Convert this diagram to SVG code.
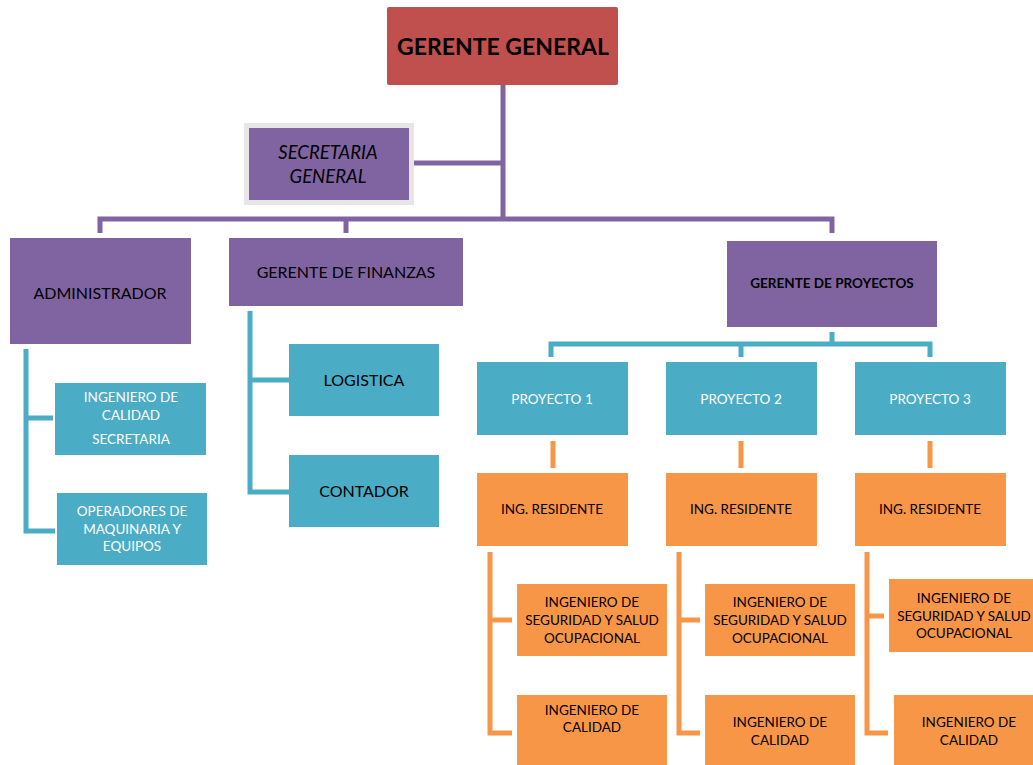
<svg xmlns="http://www.w3.org/2000/svg" width="1033" height="765" viewBox="0 0 1033 765">
<style>
text{font-family:Lato,"Open Sans","Liberation Sans",sans-serif;text-anchor:middle;dominant-baseline:central}
.p{fill:#8064a2}.r{fill:#c0504d}.t{fill:#4bacc6}.o{fill:#f79646}
.lp{stroke:#8064a2;stroke-width:5;fill:none}
.lt{stroke:#4bacc6;stroke-width:5;fill:none}
.lo{stroke:#f79646;stroke-width:5;fill:none}
.k{fill:#000;font-size:16px}
.w{fill:#fff;font-size:13.5px}
.s{fill:#000;font-size:13.5px}
</style>
<g id="connectors">
<path class="lp" d="M503 85V220M414 163H503M100 233V219H832V233M346 233V219"/>
<path class="lt" d="M832 332V344M551 357V344H930V357M741 344V357"/>
<path class="lt" d="M26 349V531H55M26 418H53M250 311V492H289M250 380H289"/>
<path class="lo" d="M553 441V468M741 441V468M930 441V468"/>
<path class="lo" d="M490 552V733H512M490 620H512M679 552V733H700M679 620H700M867 552V733H888M867 616H884"/>
</g>
<g id="gerente-general"><rect class="r" x="387" y="7" width="231" height="78" rx="2"/><text x="503" y="46" style="font-size:23px;font-weight:bold">GERENTE GENERAL</text></g>
<g id="secretaria-general"><rect x="244" y="123" width="170" height="82" fill="#e6e6e6"/><rect class="p" x="249" y="128" width="160" height="72"/><text x="328" y="152" style="font-size:18.5px;font-style:italic">SECRETARIA</text><text x="328" y="176" style="font-size:18.5px;font-style:italic">GENERAL</text></g>
<g id="administrador"><rect class="p" x="10" y="238" width="181" height="106"/><text class="k" x="100" y="292">ADMINISTRADOR</text></g>
<g id="gerente-finanzas"><rect class="p" x="229" y="238" width="234" height="68"/><text class="k" x="346" y="271">GERENTE DE FINANZAS</text></g>
<g id="gerente-proyectos"><rect class="p" x="727" y="241" width="210" height="86"/><text x="832" y="283" style="font-size:13.5px;font-weight:bold">GERENTE DE PROYECTOS</text></g>
<g id="ingeniero-calidad-secretaria"><rect class="t" x="55" y="383" width="151" height="72"/><text class="w" x="131" y="397">INGENIERO DE</text><text class="w" x="131" y="415">CALIDAD</text><text class="w" x="131" y="439">SECRETARIA</text></g>
<g id="operadores"><rect class="t" x="57" y="493" width="150" height="72"/><text class="w" x="132" y="511">OPERADORES DE</text><text class="w" x="132" y="529">MAQUINARIA Y</text><text class="w" x="132" y="546">EQUIPOS</text></g>
<g id="logistica"><rect class="t" x="289" y="344" width="150" height="72"/><text class="k" x="364" y="379">LOGISTICA</text></g>
<g id="contador"><rect class="t" x="289" y="455" width="150" height="72"/><text class="k" x="364" y="490">CONTADOR</text></g>
<g id="proyecto-1"><rect class="t" x="477" y="362" width="151" height="73"/><text class="w" x="552" y="399">PROYECTO 1</text></g>
<g id="proyecto-2"><rect class="t" x="666" y="362" width="151" height="73"/><text class="w" x="741" y="399">PROYECTO 2</text></g>
<g id="proyecto-3"><rect class="t" x="855" y="362" width="151" height="73"/><text class="w" x="930" y="399">PROYECTO 3</text></g>
<g id="residente-1"><rect class="o" x="477" y="473" width="151" height="73"/><text class="s" x="552" y="509">ING. RESIDENTE</text></g>
<g id="residente-2"><rect class="o" x="666" y="473" width="151" height="73"/><text class="s" x="741" y="509">ING. RESIDENTE</text></g>
<g id="residente-3"><rect class="o" x="855" y="473" width="151" height="73"/><text class="s" x="930" y="509">ING. RESIDENTE</text></g>
<g id="seguridad-1"><rect class="o" x="517" y="584" width="150" height="72"/><text class="s" x="592" y="602">INGENIERO DE</text><text class="s" x="592" y="620">SEGURIDAD Y SALUD</text><text class="s" x="592" y="638">OCUPACIONAL</text></g>
<g id="seguridad-2"><rect class="o" x="705" y="584" width="150" height="72"/><text class="s" x="780" y="602">INGENIERO DE</text><text class="s" x="780" y="620">SEGURIDAD Y SALUD</text><text class="s" x="780" y="638">OCUPACIONAL</text></g>
<g id="seguridad-3"><rect class="o" x="889" y="579" width="150" height="73"/><text class="s" x="964" y="598">INGENIERO DE</text><text class="s" x="964" y="616">SEGURIDAD Y SALUD</text><text class="s" x="964" y="633">OCUPACIONAL</text></g>
<g id="calidad-1"><rect class="o" x="517" y="695" width="150" height="75"/><text class="s" x="592" y="710">INGENIERO DE</text><text class="s" x="592" y="727">CALIDAD</text></g>
<g id="calidad-2"><rect class="o" x="705" y="695" width="150" height="75"/><text class="s" x="780" y="722">INGENIERO DE</text><text class="s" x="780" y="740">CALIDAD</text></g>
<g id="calidad-3"><rect class="o" x="894" y="695" width="150" height="75"/><text class="s" x="969" y="722">INGENIERO DE</text><text class="s" x="969" y="740">CALIDAD</text></g>
</svg>
